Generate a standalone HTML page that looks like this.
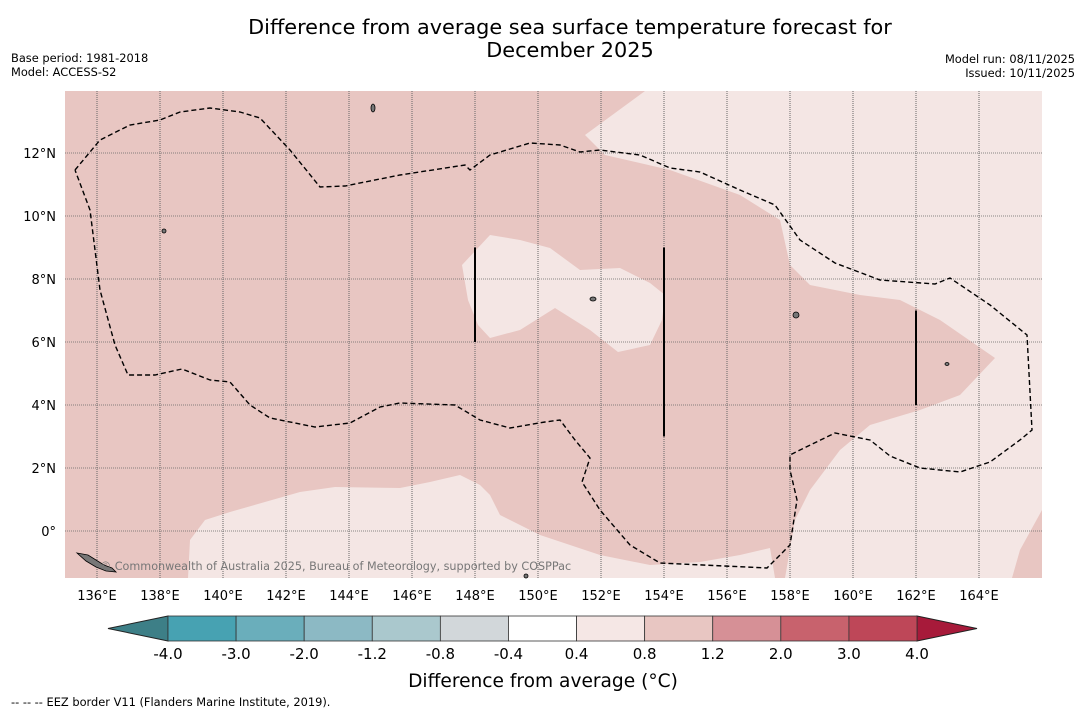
<!DOCTYPE html>
<html><head><meta charset="utf-8"><style>
body{margin:0;background:#fff;font-family:"DejaVu Sans","Liberation Sans",sans-serif}
svg{display:block}
</style></head><body>
<svg width="1085" height="713" viewBox="0 0 1085 713" font-family="DejaVu Sans, Liberation Sans, sans-serif">
<text x="570" y="34" text-anchor="middle" font-size="20.8">Difference from average sea surface temperature forecast for</text>
<text x="570" y="57" text-anchor="middle" font-size="20.8">December 2025</text>
<text x="11" y="62" font-size="11.4">Base period: 1981-2018</text>
<text x="11" y="76" font-size="11.4">Model: ACCESS-S2</text>
<text x="1075" y="63" font-size="11.4" text-anchor="end">Model run: 08/11/2025</text>
<text x="1075" y="77" font-size="11.4" text-anchor="end">Issued: 10/11/2025</text>
<g id="map"></g>
<g id="cbar"></g>
<text x="543" y="687" text-anchor="middle" font-size="18.6">Difference from average (°C)</text>
<text x="11" y="706" font-size="11.4">--  --  -- EEZ border V11 (Flanders Marine Institute, 2019).</text>
</svg>
<script>
const lonTicks=[136,138,140,142,144,146,148,150,152,154,156,158,160,162,164];
const latTicks=[0,2,4,6,8,10,12];
const markerLons=[148,154,162];
const markerLatStart=[6,3,4];
const markerLatEnd=[9,9,7];
const cbLevels=["-4.0","-3.0","-2.0","-1.2","-0.8","-0.4","0.4","0.8","1.2","2.0","3.0","4.0"];
const cbColors=["#47a2b2","#6aaebb","#8cb9c4","#aac8cd","#d2d7da","#ffffff","#f5e7e5","#e8c6c2","#d69096","#c8626d","#be4758"];
const NS="http://www.w3.org/2000/svg";
const X0=65,X1=1042,Y0=91,Y1=578;
const lonX=l=>65.5+(l-135)*31.5;
const latY=l=>531-l*31.5;
function mk(t,a,p){const e=document.createElementNS(NS,t);for(const k in a)e.setAttribute(k,a[k]);p.appendChild(e);return e;}
const map=document.getElementById('map');
let r=mk('rect',{x:X0,y:Y0,width:X1-X0,height:Y1-Y0,fill:'#e8c6c2'},map);


const polys=[
 ["645,91 585,135 605,155 670,170 740,195 780,220 790,265 810,285 860,295 900,300 940,320 995,358 960,395 920,410 870,425 840,450 810,490 795,520 785,578 1012,578 1020,550 1042,510 1042,91","anomaly-light-region-east"],
 ["188,578 190,540 205,520 230,512 300,492 335,487 400,488 430,482 460,475 480,485 490,495 500,515 540,535 600,555 650,565 700,562 740,555 770,548 775,578","anomaly-light-region-south"],
 ["462,265 490,235 520,240 550,248 580,270 620,268 650,283 665,295 662,320 650,345 618,352 590,330 555,308 520,330 490,338 478,325 468,300","anomaly-light-region-central"]];
polys.forEach(p=>{const e=mk('polygon',{points:p[0],fill:'#f4e6e4'},map);
 
 });
lonTicks.forEach(l=>{const x=lonX(l);
 const g=mk('line',{x1:x,x2:x,y1:Y0,y2:Y1,stroke:'#666',"stroke-width":1,"stroke-dasharray":"1,1"},map);
 
 });
latTicks.forEach(l=>{const y=latY(l);
 const g=mk('line',{x1:X0,x2:X1,y1:y,y2:y,stroke:'#666',"stroke-width":0.8,"stroke-dasharray":"1,1"},map);
 
 
 const t=mk('text',{x:56,y:y+5,"font-size":13,"text-anchor":"end"},map);t.textContent=(l===0?"0°":l+"°N");
 
 });
lonTicks.forEach(l=>{const t=mk('text',{x:lonX(l),y:600,"font-size":13,"text-anchor":"middle"},map);t.textContent=l+"°E";
 
 });
const eez=mk('polyline',{points:"75,170 100,140 130,125 160,120 180,112 210,108 240,112 260,118 290,150 320,187 345,186 400,175 465,165 470,170 490,155 530,143 560,145 580,152 600,150 640,155 670,168 700,172 740,190 775,205 800,240 835,263 880,280 935,284 950,278 990,305 1027,335 1032,430 1020,440 990,462 960,472 920,468 890,456 870,440 835,433 800,450 790,455 790,470 797,500 790,545 767,568 660,563 630,545 600,510 582,482 590,458 575,440 560,420 545,422 510,428 480,420 455,405 400,403 380,407 350,423 315,427 270,418 250,405 230,382 210,380 182,369 155,375 128,375 115,345 100,290 95,250 90,210 75,170",fill:'none',stroke:'#000',"stroke-width":1.4,"stroke-dasharray":"5,3"},map);


markerLons.forEach((l,i)=>{const e=mk('line',{x1:lonX(l),x2:lonX(l),y1:latY(markerLatEnd[i]),y2:latY(markerLatStart[i]),stroke:'#000',"stroke-width":2},map);
 
 });
const isl=mk('polygon',{points:"77,553 88,555 96,560 104,565 112,568 116,572 106,571 96,567 86,561",fill:'#777',stroke:'#000',"stroke-width":0.8},map);


[[373,108,2,4],[796,315,3,3],[947,364,2,1.5],[164,231,2,2],[593,299,3,2],[526,576,2,2]].forEach(p=>{const e=mk('ellipse',{cx:p[0],cy:p[1],rx:p[2],ry:p[3],fill:'#777',stroke:'#000',"stroke-width":0.8},map);
 
 });
const cr=mk('text',{x:100,y:570,"font-size":11.2,fill:'#777'},map);cr.textContent="© Commonwealth of Australia 2025, Bureau of Meteorology, supported by COSPPac";


const cb=document.getElementById('cbar');
const CX0=168,CX1=917,CY=616,CH=25,w=(CX1-CX0)/cbColors.length;
let a=mk('polygon',{points:`108,${CY+CH/2} ${CX0},${CY} ${CX0},${CY+CH}`,fill:'#3d7f87',stroke:'#222'},cb);


a=mk('polygon',{points:`977,${CY+CH/2} ${CX1},${CY} ${CX1},${CY+CH}`,fill:'#a71a3a',stroke:'#222'},cb);


cbColors.forEach((c,i)=>{const e=mk('rect',{x:CX0+i*w,y:CY,width:w,height:CH,fill:c,stroke:'#333',"stroke-width":0.8},cb);
 
 });
cbLevels.forEach((s,i)=>{const t=mk('text',{x:CX0+i*w,y:659,"font-size":15,"text-anchor":"middle"},cb);t.textContent=s;
 
 });
</script>
</body></html>
